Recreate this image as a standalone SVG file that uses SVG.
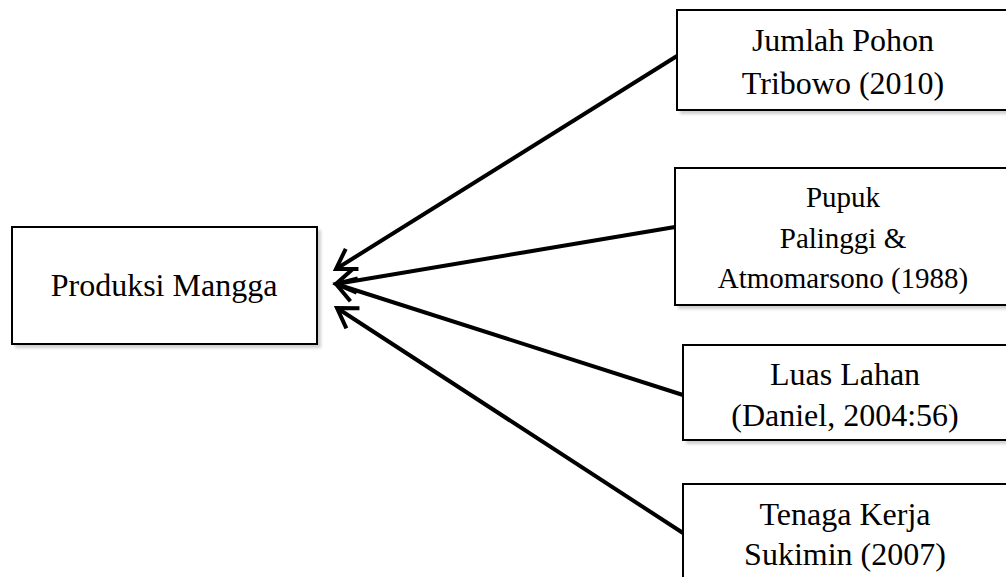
<svg xmlns="http://www.w3.org/2000/svg" width="1006" height="577" viewBox="0 0 1006 577">
<style>
.box{fill:#fff;stroke:#000;stroke-width:2}
.sh{fill:#bbb;opacity:0.7}
.t{font-family:"Liberation Serif","Times New Roman",serif;font-size:32px;fill:#000;text-anchor:middle}
.ts{font-size:29px}
.c{stroke:#000;stroke-width:4;fill:none}
</style>
<defs>
<filter id="blur" x="-5%" y="-5%" width="110%" height="110%"><feGaussianBlur stdDeviation="1.5"/></filter>
<marker id="ah" markerUnits="userSpaceOnUse" markerWidth="40" markerHeight="40" viewBox="-25 -20 30 40" refX="0" refY="0" orient="auto" overflow="visible">
<path d="M -19 -12 L 0 0 L -19 12" fill="none" stroke="#000" stroke-width="4" stroke-linejoin="miter"/>
</marker>
</defs>
<rect width="1006" height="577" fill="#fff"/>
<g id="connectors">
<line class="c" x1="677" y1="56" x2="336" y2="269" marker-end="url(#ah)"/>
<line class="c" x1="675" y1="227" x2="336" y2="284" marker-end="url(#ah)"/>
<line class="c" x1="683" y1="395" x2="336" y2="284" marker-end="url(#ah)"/>
<line class="c" x1="683" y1="533" x2="337" y2="308" marker-end="url(#ah)"/>
</g>
<g id="produksi">
<rect class="sh" x="15" y="230" width="306" height="118" filter="url(#blur)"/>
<rect class="box" x="12" y="227" width="305" height="117"/>
<text class="t" x="164" y="296">Produksi Mangga</text>
</g>
<g id="jumlah">
<rect class="sh" x="680" y="13" width="340" height="101" filter="url(#blur)"/>
<rect class="box" x="677" y="10" width="340" height="100"/>
<text class="t" x="843" y="51">Jumlah Pohon</text>
<text class="t" x="843" y="94">Tribowo (2010)</text>
</g>
<g id="pupuk">
<rect class="sh" x="678" y="171" width="340" height="138" filter="url(#blur)"/>
<rect class="box" x="675" y="168" width="340" height="137"/>
<text class="t ts" x="843" y="207">Pupuk</text>
<text class="t ts" x="843" y="248">Palinggi &amp;</text>
<text class="t ts" x="843" y="288">Atmomarsono (1988)</text>
</g>
<g id="luas">
<rect class="sh" x="686" y="348" width="340" height="96" filter="url(#blur)"/>
<rect class="box" x="683" y="345" width="340" height="95"/>
<text class="t" x="845" y="385">Luas Lahan</text>
<text class="t" x="845" y="426">(Daniel, 2004:56)</text>
</g>
<g id="tenaga">
<rect class="sh" x="686" y="487" width="340" height="110" filter="url(#blur)"/>
<rect class="box" x="683" y="484" width="340" height="110"/>
<text class="t" x="845" y="525">Tenaga Kerja</text>
<text class="t" x="845" y="565">Sukimin (2007)</text>
</g>
</svg>
